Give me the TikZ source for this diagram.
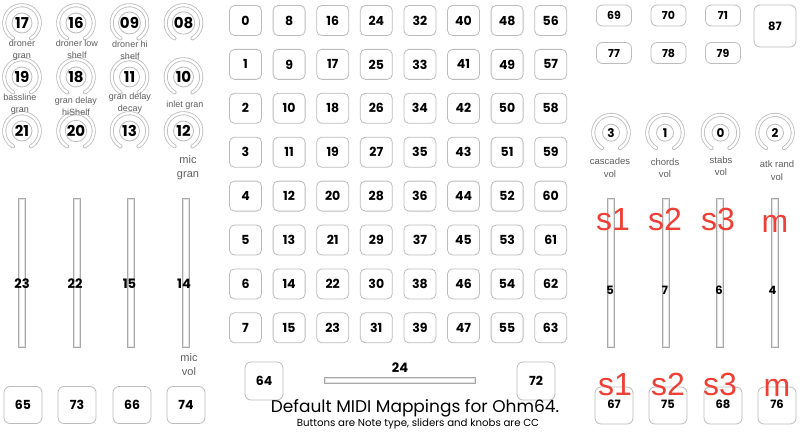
\documentclass[tikz,border=0pt]{standalone}
\usepackage{fontspec}
\setmainfont{Poppins}
\newfontfamily\labfont{Liberation Sans}
\usetikzlibrary{calc}
\definecolor{edge}{RGB}{188,188,188}
\definecolor{lbl}{RGB}{95,95,95}
\definecolor{redl}{RGB}{238,64,54}
\newcommand\fs[1]{\fontsize{#1}{#1}\selectfont}
\tikzset{
  btn/.style={draw=edge, line width=0.8pt, rounded corners=5pt, minimum width=32pt, minimum height=30pt, inner sep=0pt, font=\bfseries\fs{12.5}},
  bigbtn/.style={btn, minimum width=38pt, minimum height=37pt, rounded corners=6pt},
  smallbtn/.style={btn, minimum width=35pt, minimum height=21pt, rounded corners=6pt, font=\bfseries\fs{11}},
  knobring/.style={draw=edge, line width=0.8pt, double=white, double distance=2.4pt, line cap=round},
  knobcore/.style={circle, draw=edge, line width=0.8pt, inner sep=0pt},
  sliderbox/.style={draw=edge!90!black, line width=0.7pt, fill=white, inner sep=0pt},
  sliderin/.style={draw=edge!45, line width=0.6pt},
  knoblab/.style={font=\labfont\fontsize{9}{12}\selectfont, text=lbl, align=center, inner sep=0pt},
  rknoblab/.style={font=\labfont\fontsize{9.5}{12.5}\selectfont, text=lbl, align=center, inner sep=0pt},
  midlab/.style={font=\labfont\fontsize{11}{14}\selectfont, text=lbl, align=center, inner sep=0pt},
  snum/.style={font=\bfseries\fs{13}, inner sep=0pt},
  rsnum/.style={font=\bfseries\fs{11.5}, inner sep=0pt},
  redlab/.style={font=\labfont\fs{32}, text=redl, anchor=base, inner sep=0pt},
}
% name, x, y, number, inner diameter, font size
\newcommand\myknob[6]{%
  \draw[knobring] (#2,-#3) ++(-60:17.8pt) arc[start angle=-60, end angle=240, radius=17.8pt];
  \node[knobcore, minimum size=#5, font=\bfseries\fs{#6}] (#1) at (#2,-#3) {#4};
}
% name, x
\newcommand\myslider[2]{%
  \node[sliderbox, minimum width=7pt, minimum height=149pt] (#1) at (#2,-272.5) {};
  \draw[sliderin] ($(#1.south west)+(1.3pt,1.3pt)$) rectangle ($(#1.north east)+(-1.3pt,-1.3pt)$);
}
\begin{document}
\begin{tikzpicture}[x=1pt,y=1pt]
\useasboundingbox (0,0) rectangle (800,-441);
\fill[white] (0,0) rectangle (800,-441);

% ---------- left knobs ----------
\myknob{k17}{22}{23}{17}{20pt}{15}
\myknob{k16}{76}{23}{16}{20pt}{15}
\myknob{k09}{129.5}{23}{09}{20pt}{15}
\myknob{k08}{183.5}{23}{08}{20pt}{15}
\myknob{k19}{22}{77}{19}{20pt}{15}
\myknob{k18}{76}{77}{18}{20pt}{15}
\myknob{k11}{129.5}{77}{11}{20pt}{15}
\myknob{k10}{183.5}{77}{10}{20pt}{15}
\myknob{k21}{22}{131}{21}{20pt}{15}
\myknob{k20}{76}{131}{20}{20pt}{15}
\myknob{k13}{129.5}{131}{13}{20pt}{15}
\myknob{k12}{183.5}{131}{12}{20pt}{15}

\node[knoblab] (l17) at (22,-50.5) {droner\\gran};
\node[knoblab] (l16) at (77,-49) {droner low\\shelf};
\node[knoblab] (l09) at (130,-50) {droner hi\\shelf};
\node[knoblab] (l19) at (20,-104.5) {bassline\\gran};
\node[knoblab] (l18) at (76,-106.5) {gran delay\\hiShelf};
\node[knoblab] (l11) at (130,-103) {gran delay\\decay};
\node[knoblab] (l10) at (185,-105) {inlet gran};
\node[midlab] (l12) at (188,-167.5) {mic\\gran};

% ---------- left sliders ----------
\myslider{s23}{22}
\myslider{s22}{76.5}
\myslider{s15}{131}
\myslider{s14}{185.5}
\node[snum] (n23) at (22,-284) {23};
\node[snum] (n22) at (75,-284) {22};
\node[snum] (n15) at (129.5,-284) {15};
\node[snum] (n14) at (184,-284) {14};
\node[midlab] (l14) at (189,-364.5) {mic\\vol};

% ---------- left bottom buttons ----------
\node[bigbtn] (b65) at (23,-405) {65};
\node[bigbtn] (b73) at (77,-405) {73};
\node[bigbtn] (b66) at (132,-405) {66};
\node[bigbtn] (b74) at (186,-405) {74};

% ---------- 8x8 grid ----------
\foreach \c in {0,...,7}{
  \foreach \r in {0,...,7}{
    \pgfmathtruncatemacro\num{8*\c+\r}
    \node[btn] (g\num) at ({245.5+43.6*\c},{-20.5-43.9*\r}) {\num};
  }
}

% ---------- bottom centre ----------
\node[bigbtn, minimum height=38pt] (b64) at (264,-381) {64};
\node[bigbtn, minimum height=38pt] (b72) at (536,-381) {72};
\node[sliderbox, minimum width=151pt, minimum height=6pt] (h24) at (399.5,-380) {};
\draw[sliderin] ($(h24.south west)+(1.3pt,1.3pt)$) rectangle ($(h24.north east)+(-1.3pt,-1.3pt)$);
\node[snum] (n24) at (400,-368) {24};
\node[font=\fs{17}, inner sep=0pt] (title) at (415,-408) {Default MIDI Mappings for Ohm64.};
\node[font=\fs{10.2}, inner sep=0pt] (sub) at (418,-423.5) {Buttons are Note type, sliders and knobs are CC};

% ---------- top right ----------
\node[smallbtn] (b69) at (614,-15.5) {69};
\node[smallbtn] (b70) at (668.5,-15.5) {70};
\node[smallbtn] (b71) at (723,-15.5) {71};
\node[smallbtn] (b77) at (614,-53) {77};
\node[smallbtn] (b78) at (668.5,-53) {78};
\node[smallbtn] (b79) at (723,-53) {79};
\node[btn, minimum width=42pt, minimum height=42pt, rounded corners=6pt, font=\bfseries\fs{11.5}] (b87) at (775,-26) {87};

% ---------- right knobs ----------
\myknob{k3}{611}{132.7}{3}{17pt}{12}
\myknob{k1}{665}{132.7}{1}{17pt}{12}
\myknob{k0}{720.5}{132.7}{0}{17pt}{12}
\myknob{k2}{775}{132.7}{2}{17pt}{12}
\node[rknoblab] (l3) at (610,-167.5) {cascades\\vol};
\node[rknoblab] (l1) at (665,-168) {chords\\vol};
\node[rknoblab] (l0) at (721,-166) {stabs\\vol};
\node[rknoblab] (l2) at (777,-170.5) {atk rand\\vol};

% ---------- right sliders ----------
\myslider{s5}{611}
\myslider{s7}{665.8}
\myslider{s6}{720}
\myslider{s4}{774.7}
\node[rsnum] (n5) at (610,-290) {5};
\node[rsnum] (n7) at (665,-290) {7};
\node[rsnum] (n6) at (719,-290) {6};
\node[rsnum] (n4) at (772.5,-290) {4};

% ---------- right bottom buttons ----------
\node[bigbtn, font=\bfseries\fs{11.5}] (b67) at (614,-405.5) {\raisebox{2.5pt}{67}};
\node[bigbtn, font=\bfseries\fs{11.5}] (b75) at (668,-405.5) {\raisebox{2.5pt}{75}};
\node[bigbtn, font=\bfseries\fs{11.5}] (b68) at (723,-405.5) {\raisebox{2.5pt}{68}};
\node[bigbtn, font=\bfseries\fs{11.5}] (b76) at (777,-405.5) {\raisebox{2.5pt}{76}};

% ---------- red annotations ----------
\node[redlab] (r1) at (613,-230) {s1};
\node[redlab] (r2) at (665,-230) {s2};
\node[redlab] (r3) at (718,-230) {s3};
\node[redlab] (r4) at (775,-232) {m};
\node[redlab] (r5) at (615,-395) {s1};
\node[redlab] (r6) at (668,-395) {s2};
\node[redlab] (r7) at (720,-395) {s3};
\node[redlab] (r8) at (777,-396) {m};
\end{tikzpicture}
\end{document}
